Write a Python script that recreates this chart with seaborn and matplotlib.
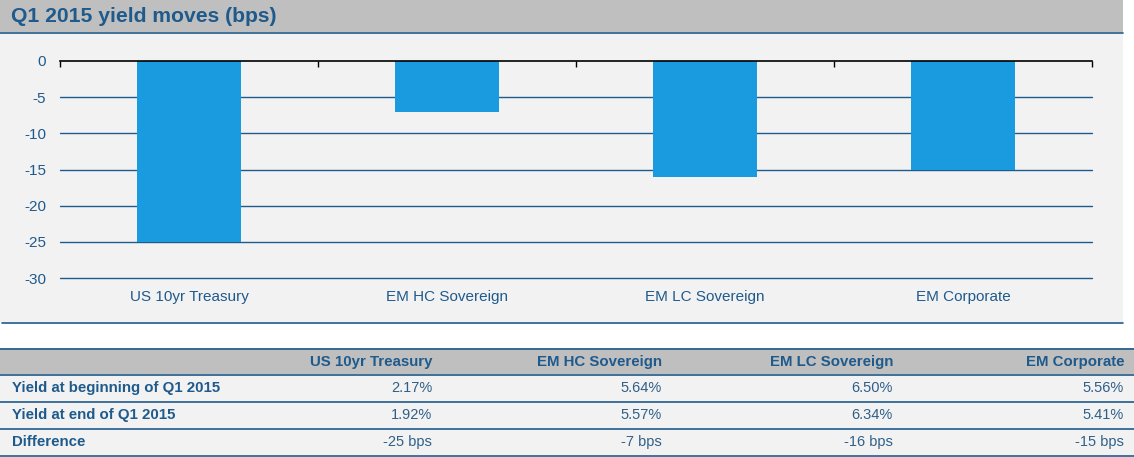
import matplotlib
matplotlib.use("Agg")
import matplotlib.pyplot as plt
from matplotlib.patches import Rectangle
from matplotlib.lines import Line2D
import seaborn as sns
import pandas as pd

# ---- data ----
title = "Q1 2015 yield moves (bps)"
categories = ["US 10yr Treasury", "EM HC Sovereign", "EM LC Sovereign", "EM Corporate"]
moves = [-25, -7, -16, -15]
yield_begin = [2.17, 5.64, 6.50, 5.56]
yield_end = [1.92, 5.57, 6.34, 5.41]
row_labels = ["Yield at beginning of Q1 2015", "Yield at end of Q1 2015", "Difference"]
yticks = [0, -5, -10, -15, -20, -25, -30]

# ---- style ----
sns.set_theme(style="white")
plt.rcParams['font.family'] = ['Liberation Sans', 'DejaVu Sans']

BLUE_TXT = "#1f5a8c"
VAL_TXT = "#2f5f88"
BAR = "#1a9be0"
GRID = "#1f5a8c"
PANEL = "#f2f2f2"
HEAD = "#bfbfbf"

W, H = 1134, 457
fig = plt.figure(figsize=(W / 100, H / 100), dpi=100)
fig.patch.set_facecolor("white")


def fx(x):
    return x / W


def fy(y):
    return 1 - y / H


def rect(x0, y0, x1, y1, color):
    fig.add_artist(Rectangle((fx(x0), fy(y1)), fx(x1) - fx(x0), fy(y0) - fy(y1),
                             transform=fig.transFigure, facecolor=color,
                             edgecolor="none", zorder=0))


def hline(x0, x1, y, color=GRID, lw=1.2):
    fig.add_artist(Line2D([fx(x0), fx(x1)], [fy(y), fy(y)], transform=fig.transFigure,
                          color=color, lw=lw, zorder=1))


# title bar
rect(0, 0, 1123, 32, HEAD)
hline(0, 1123, 32.5)
fig.text(fx(11), fy(17), title, fontsize=15.2, fontweight="bold", color=BLUE_TXT,
         va="center", ha="left")

# chart panel
rect(0, 33, 1123, 322, PANEL)
hline(2, 1123, 322.5)

# ---- bar chart ----
ax = fig.add_axes([fx(60), fy(278), fx(1092) - fx(60), fy(61) - fy(278)])
ax.set_facecolor("none")
df = pd.DataFrame({"category": categories, "move": moves})
sns.barplot(data=df, x="category", y="move", color=BAR, width=0.4,
            saturation=1, linewidth=0, ax=ax, zorder=3)
ax.set_ylim(-30, 0)
ax.set_xlim(-0.5, len(categories) - 0.5)
ax.set_yticks(yticks)
ax.set_yticklabels([str(t) for t in yticks])
for t in yticks[1:]:
    ax.axhline(t, color=GRID, lw=1, zorder=1, clip_on=False)
for s in ["left", "right", "bottom"]:
    ax.spines[s].set_visible(False)
ax.spines["top"].set_visible(True)
ax.spines["top"].set_color("black")
ax.spines["top"].set_linewidth(1.2)
ax.spines["top"].set_zorder(4)
ax.set_xlabel("")
ax.set_ylabel("")
ax.set_xticks([i - 0.5 for i in range(len(categories) + 1)], minor=True)
ax.tick_params(axis="x", which="minor", top=True, bottom=False, direction="in",
               length=4, width=1, color="black")
ax.tick_params(axis="x", which="major", length=0, pad=9, labelsize=11,
               labelcolor=BLUE_TXT)
ax.tick_params(axis="y", length=0, pad=10, labelsize=11, labelcolor=BLUE_TXT)

# ---- table ----
rect(0, 348, 1134, 374, HEAD)
rect(0, 374, 1134, 455, PANEL)
for y in [348, 374, 401, 428, 455]:
    hline(0, 1134, y + 0.5)

col_right = [432, 662, 893, 1124]
row_mid = [388, 415, 442]
for xr, c in zip(col_right, categories):
    fig.text(fx(xr), fy(362), c, fontsize=10.8, fontweight="bold", color=BLUE_TXT,
             ha="right", va="center")
for ym, lab in zip(row_mid, row_labels):
    fig.text(fx(12), fy(ym), lab, fontsize=10.8, fontweight="bold", color=BLUE_TXT,
             ha="left", va="center")
for i, xr in enumerate(col_right):
    vals = [f"{yield_begin[i]:.2f}%", f"{yield_end[i]:.2f}%", f"{moves[i]} bps"]
    for ym, v in zip(row_mid, vals):
        fig.text(fx(xr), fy(ym), v, fontsize=10.5, color=VAL_TXT,
                 ha="right", va="center")

fig.savefig("out.png", dpi=100)
